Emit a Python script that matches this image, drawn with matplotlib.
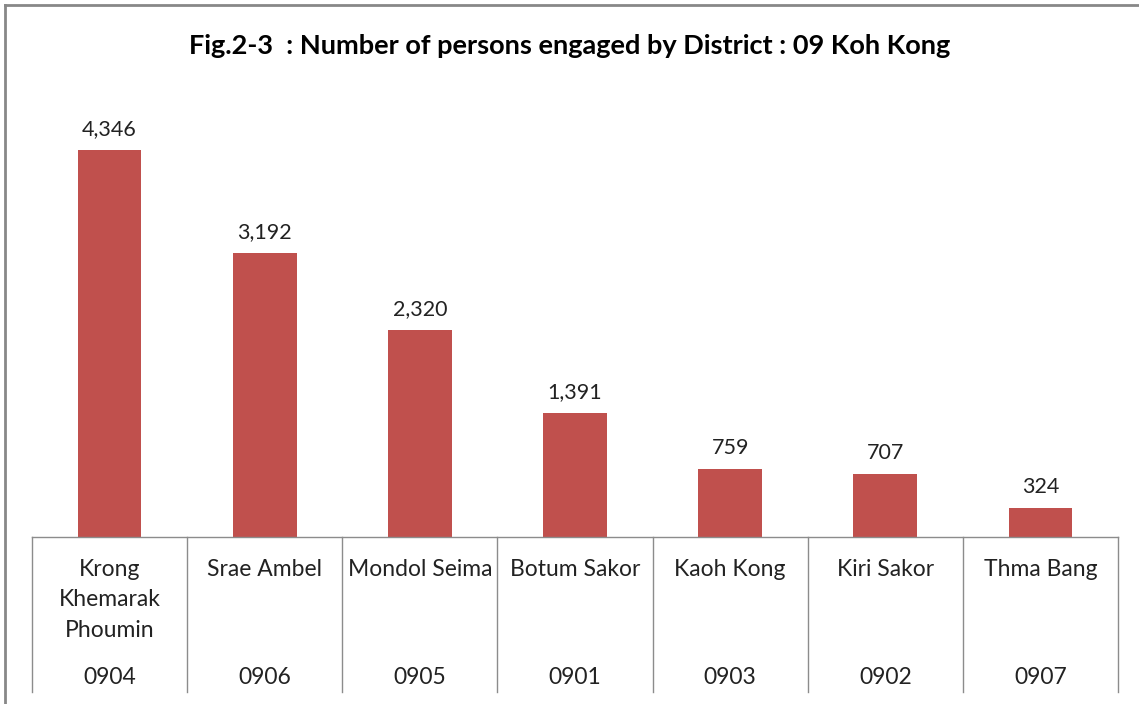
import matplotlib.pyplot as plt
from matplotlib.lines import Line2D
import matplotlib.transforms as mtransforms

districts = ["Krong\nKhemarak\nPhoumin", "Srae Ambel", "Mondol Seima", "Botum Sakor",
             "Kaoh Kong", "Kiri Sakor", "Thma Bang"]
codes = ["0904", "0906", "0905", "0901", "0903", "0902", "0907"]
persons = [4346, 3192, 2320, 1391, 759, 707, 324]

plt.rcParams["font.family"] = ["Lato", "DejaVu Sans"]

W, H = 1139, 704
fig = plt.figure(figsize=(W / 100, H / 100), dpi=100)

# plot area in pixel terms
left, right, base, top = 32, 1118, 537, 90
ax = fig.add_axes([left / W, (H - base) / H, (right - left) / W, (base - top) / H])

x = list(range(len(persons)))
ax.bar(x, persons, width=0.41, color="#C0504D")

for i, v in enumerate(persons):
    ax.annotate(f"{v:,}", (i, v), xytext=(0, 8), textcoords="offset points",
                ha="center", va="bottom", fontsize=15.5, color="#222222")

ax.set_xlim(-0.5, len(persons) - 0.5)
ax.set_ylim(0, (base - top) / 0.08905)
ax.axis("off")

# table-like category axis
trans = mtransforms.blended_transform_factory(ax.transData, ax.transAxes)
axh = base - top
bottom_frac = (base - 692) / axh
ax.plot([-0.5, len(persons) - 0.5], [0, 0], transform=trans, color="#8c8c8c",
        lw=1, clip_on=False)
for k in range(len(persons) + 1):
    ax.plot([k - 0.5, k - 0.5], [0, bottom_frac], transform=trans,
            color="#8c8c8c", lw=1, clip_on=False)

for i, (name, code) in enumerate(zip(districts, codes)):
    ax.text(i, (base - 559) / axh, name, transform=trans, ha="center", va="top",
            fontsize=16.5, linespacing=1.55, color="#222222")
    ax.text(i, (base - 678) / axh, code, transform=trans, ha="center", va="center",
            fontsize=16.5, color="#222222")

fig.text(0.5, (H - 46) / H, "Fig.2-3  : Number of persons engaged by District : 09 Koh Kong",
         ha="center", va="center", fontsize=19.5, fontweight="bold")

# outer frame (top and left visible)
fig.add_artist(Line2D([5 / W, 1], [1 - 5 / H, 1 - 5 / H], color="#888888", lw=2))
fig.add_artist(Line2D([5 / W, 5 / W], [0, 1 - 5 / H], color="#888888", lw=2))

fig.savefig("out.png", dpi=100)
plt.close(fig)
